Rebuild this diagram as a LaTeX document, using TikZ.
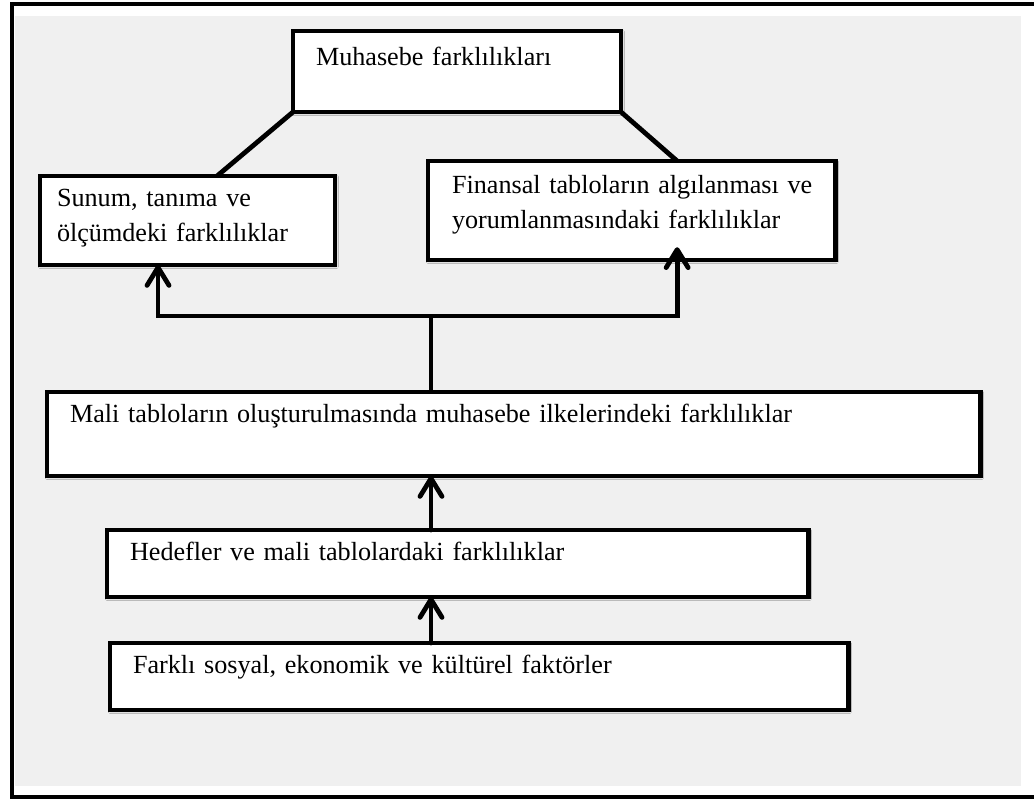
\documentclass[tikz,border=0pt]{standalone}
\usepackage{fontspec}
\setmainfont{Liberation Serif}
\usepackage{xcolor}
\definecolor{panelGray}{HTML}{F0F0F0}
\usepackage{tikz}
\usetikzlibrary{
    arrows.meta,
    shadows.blur,
    calc
}
\tikzset{
    % Base style for all boxes
    box base/.style={
        font=\fontsize{18.6}{24.9}\selectfont,
        align=left,
        anchor=north west,
        rectangle,
        draw=black,
        fill=white,
        line width=3.4pt,
        inner ysep=0pt,
        inner xsep=0.575cm,
        outer sep=0pt,
        blur shadow={
            shadow xshift=0.6pt,
            shadow yshift=-0.8pt,
            shadow blur steps=4,
            shadow opacity=30
        },
    },
    % Plain connector
    link/.style={
        line width=3.4pt,
        draw=black,
    },
    % Arrow with open barb head
    arrow/.style={
        link,
        line cap=round,
        -{Straight Barb[length=4.5mm, width=5.5mm, round]},
    },
}
\begin{document}
\begin{tikzpicture}[x=0.025cm, y=-0.025cm]
    \useasboundingbox (0,0) rectangle (1034,799);
    \fill [panelGray] (15,16) rectangle (1021,786);
    \draw [link] (1034,4) -- (12,4) -- (12,797) -- (1034,797);

    \node (diff) [box base, text width=7.05cm, text height=0.85cm, text depth=1.175cm] at (293,31) {Muhasebe farklılıkları};
    \node (sunum) [box base, inner xsep=0.425cm, text width=6.525cm, text height=0.75cm, text depth=1.475cm] at (40,176) {Sunum, tanıma ve\\ölçümdeki farklılıklar};
    \node (finans) [box base, inner xsep=0.6cm, text width=8.975cm, text height=0.8cm, text depth=1.675cm] at (428,161) {\mbox{Finansal tabloların algılanması ve}\\yorumlanmasındaki farklılıklar};
    \node (mali) [box base, text width=22.175cm, text height=0.75cm, text depth=1.35cm] at (47,392) {Mali tabloların oluşturulmasında muhasebe ilkelerindeki farklılıklar};
    \node (hedef) [box base, text width=16.375cm, text height=0.75cm, text depth=0.925cm] at (107,530) {Hedefler ve mali tablolardaki farklılıklar};
    \node (faktor) [box base, text width=17.3cm, text height=0.75cm, text depth=0.925cm] at (110,643) {Farklı sosyal, ekonomik ve kültürel faktörler};

    \coordinate (split) at (431,316);

    \draw [link] (diff.south west) -- ($(sunum.north west)!0.6!(sunum.north east)$);
    \draw [link] (diff.south east) -- ($(finans.north west)!0.612!(finans.north east)$);
    \draw [link] (mali.north -| split) -- (split);
    \draw [arrow] (split) -| ($(sunum.south west)!0.4!(sunum.south east)$);
    \draw [arrow, shorten >=-0.32cm] (split) -| ($(finans.south west)!0.612!(finans.south east)$);
    \draw [arrow] (hedef.north -| split) -- (mali.south -| split);
    \draw [arrow] (faktor.north -| split) -- (hedef.south -| split);
\end{tikzpicture}
\end{document}
